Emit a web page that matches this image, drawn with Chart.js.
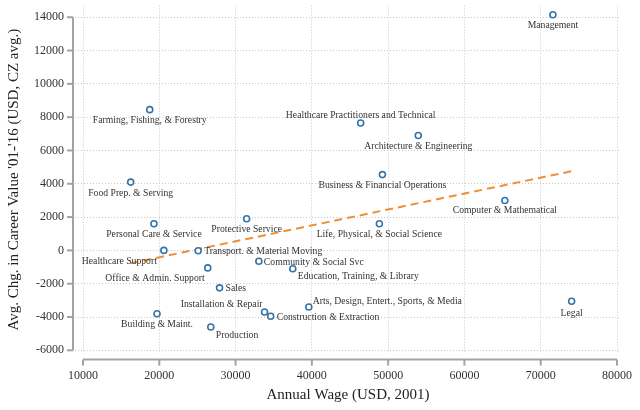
<!DOCTYPE html>
<html>
<head>
<meta charset="utf-8">
<script src="https://cdn.jsdelivr.net/npm/chart.js@4/dist/chart.umd.min.js"></script>
<style>
html,body{margin:0;padding:0;background:#fff;}
#wrap{width:640px;height:410px;position:relative;}
</style>
</head>
<body>
<div id="wrap"><canvas id="c" width="640" height="410"></canvas></div>
<script>
// ---- data ----
const occupations = [
  "Management","Farming, Fishing, & Forestry","Food Prep. & Serving",
  "Healthcare Practitioners and Technical","Architecture & Engineering",
  "Business & Financial Operations","Computer & Mathematical",
  "Life, Physical, & Social Science","Legal","Personal Care & Service",
  "Protective Service","Healthcare Support","Transport. & Material Moving",
  "Community & Social Svc","Office & Admin. Support",
  "Education, Training, & Library","Sales","Installation & Repair",
  "Construction & Extraction","Arts, Design, Entert., Sports, & Media",
  "Building & Maint.","Production"
];
const annualWage = [
  71600, 18750, 16250,
  46400, 53950,
  49250, 65300,
  48850, 74050, 19300,
  31450, 20600, 25100,
  33050, 26350,
  37500, 27900, 33800,
  34600, 39600,
  19700, 26750
];
const careerValueChange = [
  14150, 8450, 4100,
  7650, 6900,
  4550, 3000,
  1600, -3050, 1600,
  1900, 0, -20,
  -650, -1050,
  -1100, -2250, -3700,
  -3950, -3400,
  -3800, -4600
];
const trendX = [16250, 74300];
const trendY = [-770, 4780];
const xTicks = [10000, 20000, 30000, 40000, 50000, 60000, 70000, 80000];
const yTicks = [-6000, -4000, -2000, 0, 2000, 4000, 6000, 8000, 10000, 12000, 14000];

// ---- label placement (style) ----
const labelPlacement = [
  [0,11,'center'],[0,11,'center'],[0,11,'center'],
  [0,-8,'center'],[0,11,'center'],
  [0,11,'center'],[0,10,'center'],
  [0,11,'center'],[0,12,'center'],[0,11,'center'],
  [0,11,'center'],[-7,11,'right'],[6,1,'left'],
  [5,1,'left'],[-3,11,'right'],
  [5,8,'left'],[6,1,'left'],[-2,-8,'right'],
  [6,1,'left'],[4,-6,'left'],
  [0,11,'center'],[5,8,'left']
];

const SERIF = '"Liberation Serif","Times New Roman",serif';
const AXIS_GRAY = '#a3a3a3';

const scatterData = annualWage.map((x,i)=>({x:x, y:careerValueChange[i]}));
const trendData = trendX.map((x,i)=>({x:x, y:trendY[i]}));

const axesPlugin = {
  id:'axesPlugin',
  afterDraw(chart){
    const ctx = chart.ctx;
    const xs = chart.scales.x, ys = chart.scales.y;
    const ca = chart.chartArea;
    ctx.save();
    ctx.strokeStyle = AXIS_GRAY;
    ctx.lineWidth = 2;
    const sx = ca.left - 2;
    ctx.beginPath();
    ctx.moveTo(sx, ys.getPixelForValue(yTicks[yTicks.length-1]));
    ctx.lineTo(sx, ys.getPixelForValue(yTicks[0]));
    ctx.stroke();
    yTicks.forEach(v=>{
      const p = ys.getPixelForValue(v);
      ctx.beginPath(); ctx.moveTo(sx-6,p); ctx.lineTo(sx,p); ctx.stroke();
    });
    const sy = ca.bottom + 6;
    ctx.beginPath();
    ctx.moveTo(xs.getPixelForValue(xTicks[0]), sy);
    ctx.lineTo(xs.getPixelForValue(xTicks[xTicks.length-1]), sy);
    ctx.stroke();
    xTicks.forEach(v=>{
      const p = xs.getPixelForValue(v);
      ctx.beginPath(); ctx.moveTo(p,sy); ctx.lineTo(p,sy+6); ctx.stroke();
    });
    ctx.restore();
  },
  afterDatasetsDraw(chart){
    const ctx = chart.ctx;
    const meta = chart.getDatasetMeta(1);
    ctx.save();
    ctx.font = '9.7px ' + SERIF;
    ctx.fillStyle = '#333333';
    ctx.textBaseline = 'middle';
    meta.data.forEach((pt,i)=>{
      const pl = labelPlacement[i];
      ctx.textAlign = pl[2];
      ctx.fillText(occupations[i], pt.x + pl[0], pt.y + pl[1]);
    });
    ctx.restore();
  }
};

const plain = v => String(v);

new Chart(document.getElementById('c'), {
  type:'scatter',
  data:{
    datasets:[
      {
        type:'line',
        data:trendData,
        borderColor:'#ec8f3a',
        borderWidth:2,
        borderDash:[8,5],
        pointRadius:0,
        fill:false,
        order:2
      },
      {
        data:scatterData,
        pointRadius:3,
        pointBorderWidth:1.6,
        borderColor:'#3474a8',
        backgroundColor:'#ffffff',
        pointBackgroundColor:'#ffffff',
        pointBorderColor:'#3474a8',
        order:1
      }
    ]
  },
  options:{
    responsive:false,
    animation:false,
    events:[],
    layout:{padding:{top:4,right:19,left:0,bottom:0}},
    plugins:{legend:{display:false},tooltip:{enabled:false}},
    scales:{
      x:{
        type:'linear',
        min:8951, max:80524,
        afterBuildTicks(s){ s.ticks = xTicks.map(v=>({value:v})); },
        afterFit(s){ s.paddingLeft = 0; s.paddingRight = 0; },
        border:{display:false, dash:[1,2]},
        grid:{color:'#c8c8c8',lineWidth:1,drawTicks:false},
        ticks:{font:{family:SERIF,size:12},color:'#333333',padding:15,maxRotation:0,autoSkip:false,callback:plain},
        title:{display:true,text:'Annual Wage (USD, 2001)',font:{family:SERIF,size:15},color:'#222222',padding:{top:-12,bottom:6}}
      },
      y:{
        type:'linear',
        min:-6197, max:14698,
        afterBuildTicks(s){ s.ticks = yTicks.map(v=>({value:v})); },
        afterFit(s){ s.paddingTop = 0; s.paddingBottom = 0; },
        border:{display:false, dash:[1,2]},
        grid:{color:'#c8c8c8',lineWidth:1,drawTicks:false},
        ticks:{font:{family:SERIF,size:12},color:'#333333',padding:11,autoSkip:false,callback:plain},
        title:{display:true,text:"Avg. Chg. in Career Value '01-'16 (USD, CZ avg.)",font:{family:SERIF,size:15},color:'#222222',padding:{top:5,bottom:0}}
      }
    }
  },
  plugins:[axesPlugin]
});
</script>
</body>
</html>
